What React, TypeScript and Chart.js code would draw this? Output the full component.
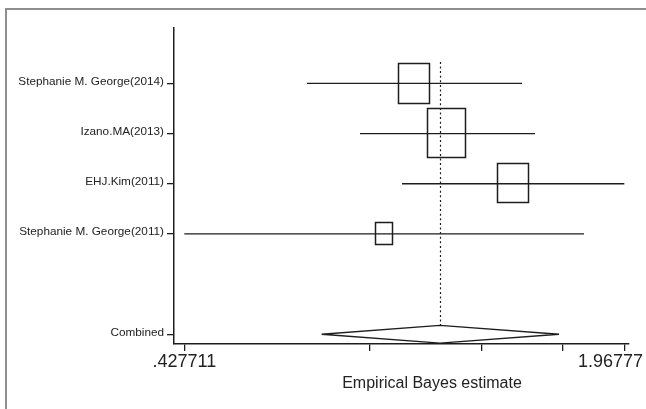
import React, { useEffect, useRef } from 'react';
import { Chart, registerables } from 'chart.js';

Chart.register(...registerables);

// ---- data ----
const studies = ['Stephanie M. George(2014)', 'Izano.MA(2013)', 'EHJ.Kim(2011)', 'Stephanie M. George(2011)'];
const studyRows = [1, 2, 3, 4];
const estimates = [1.2292, 1.3444, 1.5747, 1.1253];
const lowerCI = [0.8572, 1.0427, 1.1897, 0.427711];
const upperCI = [1.6097, 1.6552, 1.96777, 1.8267];
const weights = [26.7, 40.0, 25.5, 7.9];

const combinedLabel = 'Combined';
const combinedRow = 6;
const combinedEstimate = [1.3227];
const combinedLower = [0.9086];
const combinedUpper = [1.7392];

const xTickValues = [0.427711, 1.0777, 1.4687, 1.7522, 1.96777];
const xTickLabels = ['.427711', '', '', '', '1.96777'];
const xAxisTitle = 'Empirical Bayes estimate';

const X_MIN = 0.3917;
const X_MAX = 1.9842;
const Y_MIN = -0.104;
const Y_MAX = 6.194;

const FONT = '"Liberation Sans", Arial, Helvetica, sans-serif';
const INK = '#1e1e1e';

const forestPlugin = {
  id: 'forest',
  afterDatasetsDraw(chart: any) {
    const ctx = chart.ctx as CanvasRenderingContext2D;
    const xs = chart.scales.x;
    const ys = chart.scales.y;
    ctx.save();
    // weight boxes
    ctx.strokeStyle = INK;
    ctx.lineWidth = 1.5;
    for (let i = 0; i < estimates.length; i++) {
      const cx = xs.getPixelForValue(estimates[i]);
      const cy = ys.getPixelForValue(studyRows[i]) - 1;
      const w = 6.06 * Math.sqrt(weights[i]);
      const h = w * 1.27;
      ctx.strokeRect(Math.round(cx - w / 2) + 0.5, Math.round(cy - h / 2) + 0.5, Math.round(w), Math.round(h));
    }
    // diamond
    const dcx = xs.getPixelForValue(combinedEstimate[0]);
    const dcy = ys.getPixelForValue(combinedRow);
    const dh = 8.8;
    ctx.beginPath();
    ctx.moveTo(xs.getPixelForValue(combinedLower[0]), dcy);
    ctx.lineTo(dcx, dcy - dh);
    ctx.lineTo(xs.getPixelForValue(combinedUpper[0]), dcy);
    ctx.lineTo(dcx, dcy + dh);
    ctx.closePath();
    ctx.fillStyle = '#fff';
    ctx.fill();
    ctx.lineWidth = 1.3;
    ctx.stroke();
    // dashed overall line
    const topY = ys.getPixelForValue(studyRows[0]) - 21.5;
    ctx.beginPath();
    ctx.setLineDash([2, 2.6]);
    ctx.lineWidth = 1.2;
    ctx.moveTo(Math.round(dcx) + 0.5, topY);
    ctx.lineTo(Math.round(dcx) + 0.5, dcy - dh);
    ctx.stroke();
    ctx.setLineDash([]);
    ctx.restore();
  },
  afterDraw(chart: any) {
    const ctx = chart.ctx as CanvasRenderingContext2D;
    const xs = chart.scales.x;
    ctx.save();
    ctx.fillStyle = '#222';
    ctx.font = `18px ${FONT}`;
    ctx.textAlign = 'center';
    ctx.textBaseline = 'alphabetic';
    for (let i = 0; i < xTickValues.length; i++) {
      const lbl = xTickLabels[i];
      if (!lbl) continue;
      const w = ctx.measureText(lbl).width;
      let px = xs.getPixelForValue(xTickValues[i]);
      px = Math.min(px, chart.width - 3 - w / 2);
      px = Math.max(px, w / 2 + 3);
      ctx.fillText(lbl, px, 367);
    }
    ctx.font = `16px ${FONT}`;
    ctx.fillText(xAxisTitle, 432, 388);
    ctx.restore();
  },
};

export default function App() {
  const ref = useRef<HTMLCanvasElement | null>(null);

  useEffect(() => {
    if (!ref.current) return;
    const datasets: any[] = studies.map((s, i) => ({
      label: s,
      data: [
        { x: lowerCI[i], y: studyRows[i] },
        { x: upperCI[i], y: studyRows[i] },
      ],
      showLine: true,
      borderColor: INK,
      borderWidth: 1.3,
      pointRadius: 0,
    }));
    const rowLabels: Record<number, string> = {};
    studyRows.forEach((r, i) => (rowLabels[r] = studies[i]));
    rowLabels[combinedRow] = combinedLabel;

    const chart = new Chart(ref.current, {
      type: 'scatter',
      data: { datasets },
      plugins: [forestPlugin],
      options: {
        animation: false,
        responsive: false,
        devicePixelRatio: 1,
        layout: { padding: { top: 28, right: 17, left: 0, bottom: 0 } },
        plugins: { legend: { display: false }, tooltip: { enabled: false } },
        scales: {
          x: {
            type: 'linear',
            min: X_MIN,
            max: X_MAX,
            afterBuildTicks: (s: any) => {
              s.ticks = xTickValues.map((v) => ({ value: v }));
            },
            afterFit: (s: any) => {
              s.height = 65;
            },
            ticks: { callback: () => '', autoSkip: false },
            grid: { drawOnChartArea: false, drawTicks: true, tickLength: 7, color: INK, lineWidth: 1.3 },
            border: { display: true, color: INK, width: 1.5 },
          },
          y: {
            type: 'linear',
            reverse: true,
            min: Y_MIN,
            max: Y_MAX,
            afterBuildTicks: (s: any) => {
              s.ticks = [...studyRows, combinedRow].map((v) => ({ value: v }));
            },
            afterFit: (s: any) => {
              s.width = 174;
            },
            ticks: {
              autoSkip: false,
              callback: (v: any) => rowLabels[v as number] ?? '',
              font: { family: FONT, size: 11.75 },
              color: '#222',
              padding: 3,
              labelOffset: -2,
            },
            grid: { drawOnChartArea: false, drawTicks: true, tickLength: 7, color: INK, lineWidth: 1.3 },
            border: { display: true, color: INK, width: 1.5 },
          },
        },
      },
    });
    return () => chart.destroy();
  }, []);

  return (
    <div style={{ position: 'fixed', left: 0, top: 0, width: 646, height: 409, overflow: 'hidden', background: '#fff' }}>
      <div
        style={{
          position: 'absolute',
          left: 5,
          top: 8,
          width: 800,
          height: 600,
          borderLeft: '2px solid #8f8f8f',
          borderTop: '2px solid #8f8f8f',
        }}
      />
      <canvas ref={ref} width={646} height={409} style={{ position: 'absolute', left: 0, top: 0, width: 646, height: 409 }} />
    </div>
  );
}
